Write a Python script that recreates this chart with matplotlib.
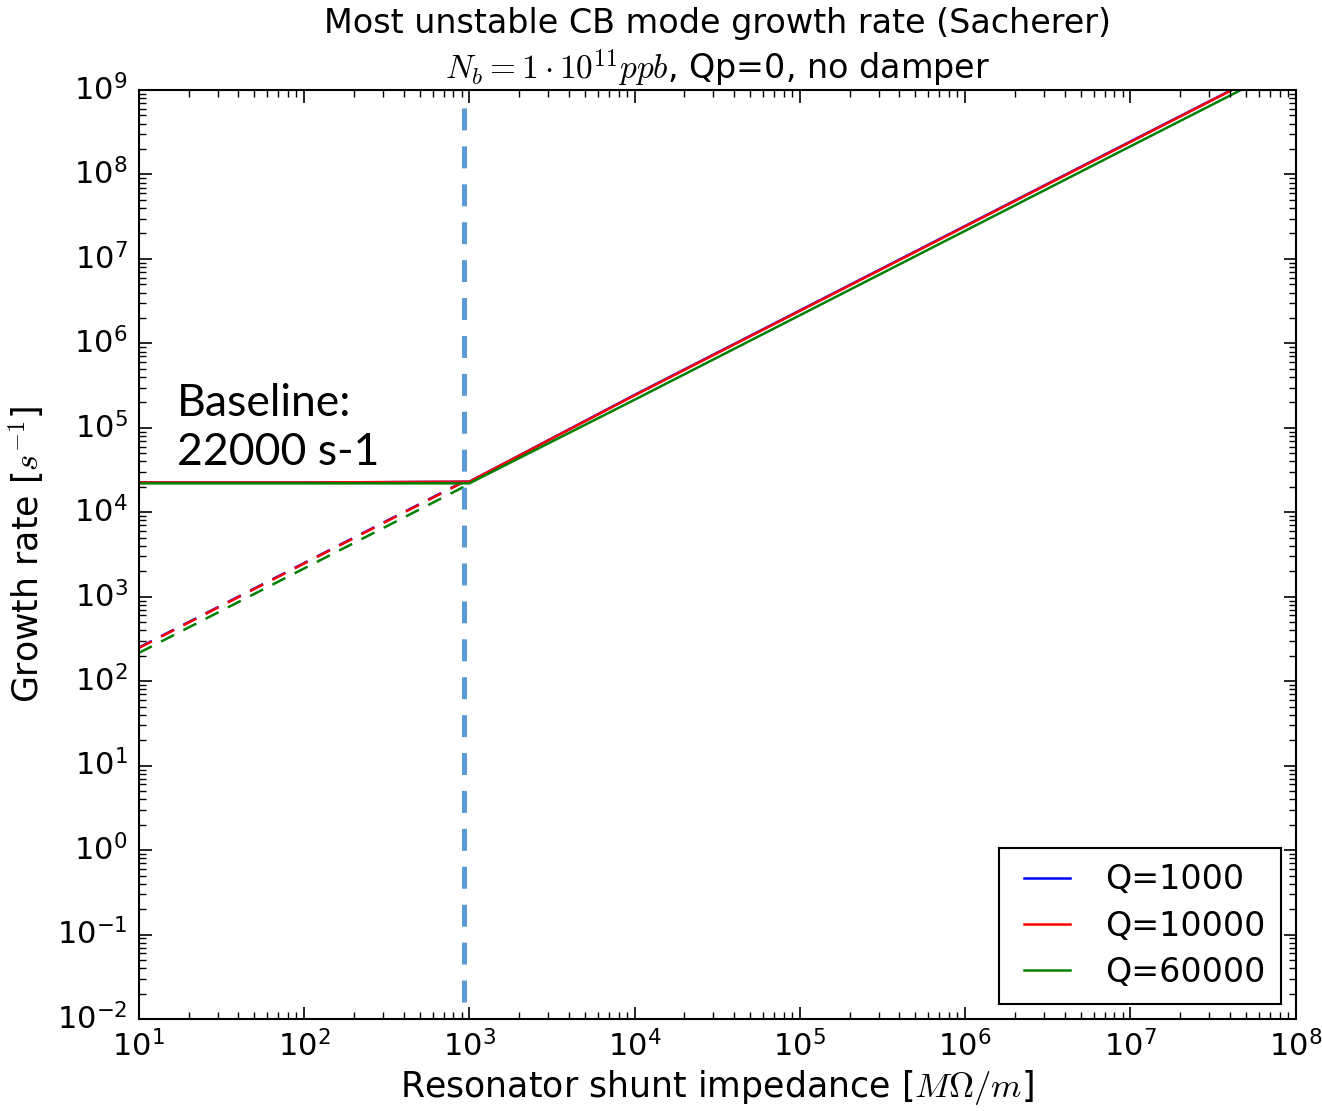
import matplotlib
matplotlib.use("Agg")
import matplotlib.pyplot as plt

plt.style.use("classic")
plt.rcParams["mathtext.fontset"] = "cm"
plt.rcParams["font.family"] = ["DejaVu Sans"]
plt.rcParams["axes.unicode_minus"] = False
plt.rcParams["lines.scale_dashes"] = False

# ---- data ----
impedance_solid = [10, 100, 1000, 1e4, 1e5, 1e6, 1e7, 5e7]
rate_q1000 = [2.25e4, 2.25e4, 2.3e4, 2.45e5, 2.45e6, 2.45e7, 2.45e8, 1.22e9]
rate_q10000 = [2.25e4, 2.25e4, 2.3e4, 2.42e5, 2.42e6, 2.42e7, 2.42e8, 1.21e9]
rate_q60000 = [2.2e4, 2.2e4, 2.2e4, 2.15e5, 2.15e6, 2.15e7, 2.15e8, 1.07e9]

impedance_dashed = [10, 100, 1000]
dashed_q1000 = [250, 2500, 25000]
dashed_q10000 = [247, 2470, 24700]
dashed_q60000 = [216, 2160, 21600]

labels = ["Q=1000", "Q=10000", "Q=60000"]
colors = ["b", "r", "g"]
threshold_impedance = 930
baseline_text = "Baseline:\n22000 s-1"

fig = plt.figure(figsize=(13.22, 11.11), dpi=100, facecolor="white")
ax = fig.add_axes([0.105, 0.0828, 0.875, 0.8362])

solid = [rate_q1000, rate_q10000, rate_q60000]
dashed = [dashed_q1000, dashed_q10000, dashed_q60000]
for s, d, c, lab in zip(solid, dashed, colors, labels):
    ax.plot(impedance_solid, s, color=c, lw=1.8, label=lab)
    ax.plot(impedance_dashed, d, color=c, lw=1.8, ls=(0, (10.5, 7.5)))

ax.axvline(threshold_impedance, ymin=0.018, ymax=0.984, color="#5B9BD5",
           lw=3.6, ls=(0, (15.8, 11.5)))

ax.set_xscale("log")
ax.set_yscale("log")
ax.set_xlim(10, 1e8)
ax.set_ylim(1e-2, 1e9)

for sp in ax.spines.values():
    sp.set_linewidth(1.5)
ax.tick_params(which="major", length=9, width=1.2, labelsize=22, pad=8)
ax.tick_params(which="minor", length=5, width=1.0)

ax.set_xlabel(r"Resonator shunt impedance [$M\Omega/m$]", fontsize=25, labelpad=4)
ax.set_ylabel(r"Growth rate [$s^{-1}$]", fontsize=25, labelpad=8)
ax.set_title("Most unstable CB mode growth rate (Sacherer)\n"
             r"$N_b = 1 \cdot 10^{11} ppb$, Qp=0, no damper", fontsize=24,
             linespacing=1.25, y=1.004)

ax.text(0.033, 0.596, baseline_text, transform=ax.transAxes, fontsize=32,
        family="Lato", linespacing=1.25, va="baseline", ha="left")

leg = ax.legend(loc="lower right", fontsize=24, handlelength=2.0,
                borderaxespad=0.45, labelspacing=0.4, handletextpad=0.75,
                borderpad=0.45, fancybox=False)
leg.get_frame().set_linewidth(1.5)
leg.get_frame().set_edgecolor("black")

fig.savefig("out.png", dpi=100, facecolor="white")
